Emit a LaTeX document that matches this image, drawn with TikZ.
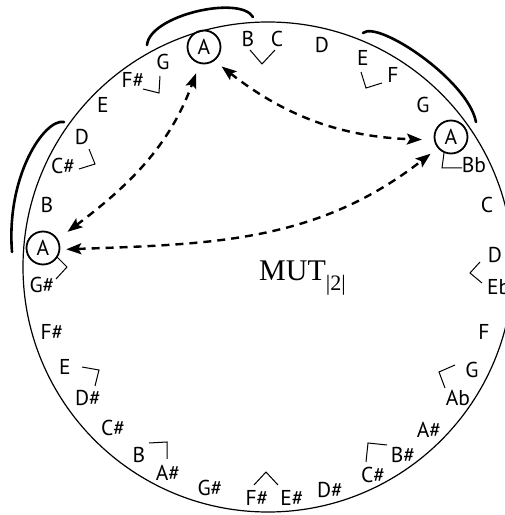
\documentclass[tikz,border=0pt]{standalone}
\usepackage{fontspec}
\setsansfont{PT Sans}
\newfontfamily\mutfont{Liberation Serif}
\usetikzlibrary{arrows.meta}
\begin{document}
\begin{tikzpicture}[x=1pt,y=1pt,
  note/.style={font=\sffamily\fontsize{21.5}{21.5}\selectfont, inner sep=0pt, text height=15pt, text depth=0pt},
  cnote/.style={font=\sffamily\fontsize{21.5}{21.5}\selectfont, inner sep=0pt, circle, draw, line width=1.8pt, minimum size=33pt},
  tick/.style={line width=1pt},
  brace/.style={line width=2.6pt, line cap=round},
  dar/.style={line width=2.4pt, dash pattern=on 8pt off 6pt,
    {Stealth[length=15pt,width=11pt,inset=3pt]}-{Stealth[length=15pt,width=11pt,inset=3pt]}}
]
\useasboundingbox (0,0) rectangle (505,515);
\clip (0,0) rectangle (505,515);
\fill[white] (0,0) rectangle (505,515);
% main circle
\draw[line width=1.2pt] (268,248) circle[radius=245];
% brackets
\draw[brace] (147,470) .. controls (150,500) and (240,520) .. (253,498);
\draw[brace] (363,482) .. controls (378,495) and (468,435) .. (476,393);
\draw[brace] (64,393) .. controls (45,397) and (6,340) .. (12,263);
% circled A
\node[cnote] (At) at (204,468) {A};
\node[cnote] (Ar) at (451,378) {A};
\node[cnote] (Al) at (43,267) {A};
% notes
\node[note] (n1) at (248,476) {B};
\node[note] (n2) at (277,476) {C};
\node[note] (n3) at (322,470) {D};
\node[note] (n4) at (363,457) {E};
\node[note] (n5) at (393,440) {F};
\node[note] (n6) at (423,410) {G};
\node[note] (n7) at (474,350) {Bb};
\node[note] (n8) at (487,310) {C};
\node[note] (n9) at (495,260) {D};
\node[note, anchor=west] (n10) at (487,228) {Eb};
\node[note] (n11) at (484,183) {F};
\node[note] (n12) at (472,145) {G};
\node[note] (n13) at (458,117) {Ab};
\node[note] (n14) at (429,85) {A\#};
\node[note] (n15) at (403,60) {B\#};
\node[note] (n16) at (373,40) {C\#};
\node[note] (n17) at (330,25) {D\#};
\node[note] (n18) at (292,17) {E\#};
\node[note] (n19) at (257,17) {F\#};
\node[note] (n20) at (210,27) {G\#};
\node[note] (n21) at (168,42) {A\#};
\node[note] (n22) at (139,60) {B};
\node[note] (n23) at (113,87) {C\#};
\node[note] (n24) at (88,117) {D\#};
\node[note] (n25) at (65,148) {E};
\node[note] (n26) at (52,183) {F\#};
\node[note] (n27) at (42,230) {G\#};
\node[note] (n28) at (47,310) {B};
\node[note] (n29) at (63,349) {C\#};
\node[note] (n30) at (82,378) {D};
\node[note] (n31) at (103,410) {E};
\node[note] (n32) at (133,435) {F\#};
\node[note] (n33) at (163,453) {G};
% ticks
\draw[tick] (250,465) -- (262,451) -- (275,465);
\draw[tick] (361,443) -- (366,427) -- (382,432);
\draw[tick] (444,362) -- (442,347) -- (462,347);
\draw[tick] (480,253) -- (470,242) -- (482,232);
\draw[tick] (455,150) -- (439,143) -- (445,127);
\draw[tick] (387,70) -- (368,72) -- (366,53);
\draw[tick] (254,30) -- (266,43) -- (278,30);
\draw[tick] (149,72) -- (167,73) -- (167,56);
\draw[tick] (82,148) -- (99,145) -- (95,129);
\draw[tick] (57,258) -- (67,248) -- (56,236);
\draw[tick] (89,366) -- (95,351) -- (79,346);
\draw[tick] (143,426) -- (159,422) -- (160,439);
% label
\node[anchor=base west, inner sep=0pt] (mut) at (259,234)
  {\mutfont\fontsize{30}{30}\selectfont MUT\raisebox{-10pt}{\fontsize{22}{22}\selectfont|2|}};
% dashed arrows
\draw[dar, shorten <=12pt, shorten >=10pt] (Al.31) to[out=37,in=250] (At.255);
\draw[dar, shorten <=9pt, shorten >=12pt] (At.307) to[out=-38,in=178] (Ar.190);
\draw[dar, shorten <=6pt, shorten >=9pt] (Al.-5) to[out=2,in=218] (Ar.220);
\end{tikzpicture}
\end{document}
